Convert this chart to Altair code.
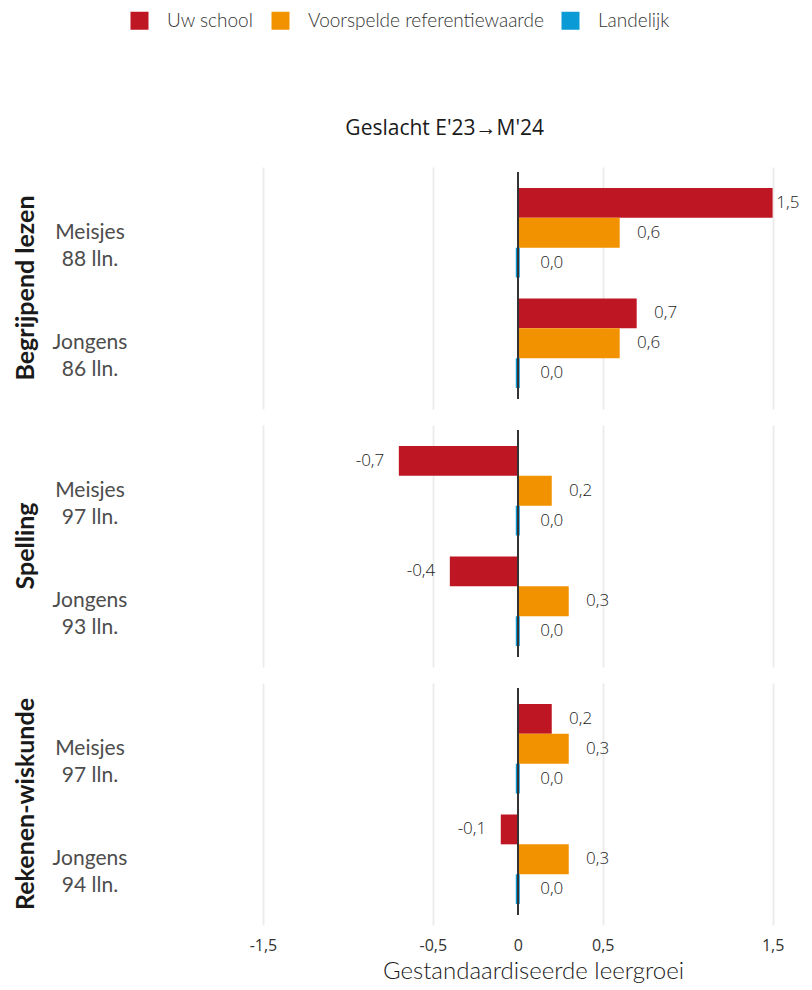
import altair as alt
import pandas as pd

vakken = ["Begrijpend lezen", "Spelling", "Rekenen-wiskunde"]
groepen = ["Meisjes", "Jongens"]
aantallen = [[88, 86], [97, 93], [97, 94]]
series = ["Uw school", "Voorspelde referentiewaarde", "Landelijk"]
uw_school = [[1.5, 0.7], [-0.7, -0.4], [0.2, -0.1]]
voorspeld = [[0.6, 0.6], [0.2, 0.3], [0.3, 0.3]]
landelijk = [[0.0, 0.0], [0.0, 0.0], [0.0, 0.0]]
kleuren = ["#BE1622", "#F39200", "#0A9BD6"]
x_ticks = [-1.5, -0.5, 0, 0.5, 1.5]

rows = []
for i, vak in enumerate(vakken):
    for j, g in enumerate(groepen):
        for s, vals in zip(series, [uw_school, voorspeld, landelijk]):
            rows.append({
                "vak": vak,
                "groep": g,
                "n": f"{aantallen[i][j]} lln.",
                "serie": s,
                "waarde": vals[i][j],
            })
df = pd.DataFrame(rows)

FONT = "Lato"
XMIN, XMAX = -2.253, 1.62
W, H = round((XMAX - XMIN) * 170), 242
x_scale = alt.Scale(domain=[XMIN, XMAX], nice=False, zero=False)
y_scale = alt.Scale(domain=groepen, paddingInner=0.19, paddingOuter=0.19)
yoff = alt.YOffset("serie:N", sort=series, scale=alt.Scale(domain=series))
color_scale = alt.Scale(domain=series, range=kleuren)

Y = alt.Y("groep:N", sort=groepen, scale=y_scale, axis=None)

bars = alt.Chart().mark_bar().encode(
    y=Y,
    x=alt.X("waarde:Q", scale=x_scale,
            axis=alt.Axis(values=x_ticks, title="Gestandaardiseerde leergroei",
                          labelExpr="datum.value == 0 ? '0' : (datum.value < 0 ? '-' : '') + replace(format(abs(datum.value), '.1f'), '.', ',')",
                          grid=True,
                          gridColor={"condition": {"test": "datum.value === 0", "value": "transparent"}, "value": "#ebebeb"},
                          gridWidth=1.8, ticks=False, domain=False,
                          labelFont="Open Sans", labelFontSize=16, labelColor="#333333",
                          labelPadding=12, titleFont=FONT, titleFontSize=24,
                          titleFontWeight=300, titleColor="#1a1a1a",
                          titlePadding=6, titleX=398)),
    x2=alt.datum(0),
    yOffset=yoff,
    color=alt.Color("serie:N", scale=color_scale,
                    legend=alt.Legend(title=None, orient="none", direction="horizontal",
                                      legendX=-5, legendY=-156,
                                      symbolType="square", symbolSize=324,
                                      symbolStrokeWidth=0, symbolOpacity=1,
                                      labelFont=FONT, labelFontSize=19, labelLimit=400,
                                      labelFontWeight=300, labelColor="#333333",
                                      labelOffset=18, columnPadding=17)),
    stroke=alt.condition("datum.serie == 'Landelijk'", alt.value("#0A9BD6"), alt.value("transparent")),
    strokeWidth=alt.condition("datum.serie == 'Landelijk'", alt.value(4), alt.value(0)),
)

labels = alt.Chart().mark_text(font="Open Sans", fontSize=17, fontWeight=300,
                               color="#1a1a1a", align="center", baseline="middle").encode(
    y=Y,
    x=alt.X("pos:Q", scale=x_scale),
    yOffset=yoff,
    text="lab:N",
).transform_calculate(
    pos="datum.waarde > 0 ? min(datum.waarde + 0.17, 1.59) : (datum.waarde < 0 ? datum.waarde - 0.17 : 0.2)",
    lab="(datum.waarde < 0 ? '-' : '') + replace(format(abs(datum.waarde), '.1f'), '.', ',')",
)

ylabels = alt.Chart().mark_text(font=FONT, fontSize=21, color="#4d4d4d",
                                align="center", baseline="middle",
                                lineBreak="|", lineHeight=27).encode(
    y=Y,
    x=alt.value(-45),
    text="lab:N",
).transform_filter("datum.serie == 'Uw school'").transform_calculate(
    lab="datum.groep + '|' + datum.n"
)

zero = alt.Chart().mark_rule(color="#333333", strokeWidth=1.6).encode(
    x=alt.datum(0, scale=x_scale), y=alt.value(5), y2=alt.value(232),
)

layer = alt.layer(bars, zero, labels, ylabels, data=df).properties(width=W, height=H)

chart = layer.facet(
    row=alt.Row("vak:N", sort=vakken,
                header=alt.Header(title=None, labelOrient="left", labelAngle=-90,
                                  labelFont=FONT, labelFontSize=25,
                                  labelFontWeight="bold", labelColor="#1a1a1a",
                                  labelPadding=1)),
    spacing=16,
).properties(
    title=alt.TitleParams("Geslacht E'23\u2192M'24", font="Open Sans", fontSize=21,
                          fontWeight="normal", color="#1a1a1a", anchor="middle",
                          dx=38, dy=128, offset=0),
    padding={"left": 5, "top": 3, "right": 0, "bottom": 5},
).configure_view(stroke=None)

chart.save("out.html", embed_options={"renderer": "svg", "actions": False})
